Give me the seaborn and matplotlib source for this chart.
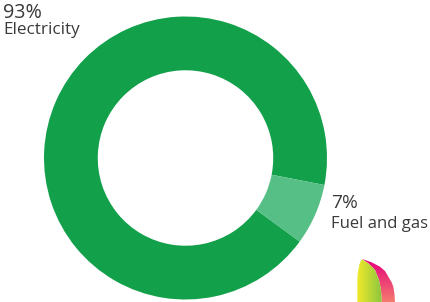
import matplotlib
matplotlib.use("Agg")
import matplotlib.pyplot as plt
import seaborn as sns
import numpy as np
from matplotlib.patches import Polygon

categories = ["Electricity", "Fuel and gas"]
values = [93, 7]
pct_labels = ["93%", "7%"]
colors = ["#12a04b", "#55bf86"]

sns.set_theme(style="white")
plt.rcParams['font.family'] = ['Open Sans', 'DejaVu Sans']

fig = plt.figure(figsize=(4.3, 3.02), dpi=100)
ax = fig.add_axes([0, 0, 1, 1])
W, H = 430, 302
cx, cy, R = 185.5, H - 158, 141.5
ax.pie(values, colors=colors, startangle=-11, counterclock=True,
       center=(cx, cy), radius=R,
       wedgeprops=dict(width=R * 0.38, edgecolor="none", linewidth=0))
ax.set_xlim(0, W)
ax.set_ylim(0, H)
ax.set_aspect("equal")
ax.axis("off")

tc = "#3a3a3a"
ax.text(3.5, H - 18.3, pct_labels[0], fontsize=14.2, color=tc, va="baseline", ha="left")
ax.text(3.5, H - 34.5, categories[0], fontsize=12.3, color=tc, va="baseline", ha="left")
ax.text(331, H - 208.3, pct_labels[1], fontsize=13.8, color=tc, va="baseline", ha="left")
ax.text(331, H - 227.7, categories[1], fontsize=12.0, color=tc, va="baseline", ha="left")

# logo (decorative leaves)
def grad_leaf(pts, c1, c2, direction):
    poly = Polygon([(x, H - y) for x, y in pts], closed=True, facecolor="none", edgecolor="none")
    ax.add_patch(poly)
    xs = [p[0] for p in pts]; ys = [H - p[1] for p in pts]
    n = 64
    t = np.linspace(0, 1, n)
    g = np.outer(np.ones(n), t) if direction == "x" else np.outer(t, np.ones(n))
    c1 = np.array(matplotlib.colors.to_rgb(c1)); c2 = np.array(matplotlib.colors.to_rgb(c2))
    img = c1[None, None, :] * (1 - g[..., None]) + c2[None, None, :] * g[..., None]
    im = ax.imshow(img, extent=(min(xs), max(xs), min(ys), max(ys)), origin="upper",
                   interpolation="bilinear", zorder=3)
    im.set_clip_path(poly)

pink = [(362, 259), (365, 260), (372, 262.5), (380, 266.7), (385, 271), (388.3, 276.7),
        (391.5, 282), (393.3, 286.7), (394.5, 294), (395, 302), (381.7, 302), (381, 290),
        (379, 280), (375, 270), (368, 263)]
yellow = [(361.7, 259.3), (359.5, 264), (358.3, 270), (357.5, 276), (357.3, 283), (357.3, 302),
          (381.7, 302), (381, 290), (379, 280), (375, 270), (368, 263)]
grad_leaf(pink, "#e5007d", "#f47a6e", "y")
grad_leaf(yellow, "#f0ea2a", "#8cc63f", "x")
ax.set_xlim(0, W)
ax.set_ylim(0, H)

fig.savefig("out.png", dpi=100)
